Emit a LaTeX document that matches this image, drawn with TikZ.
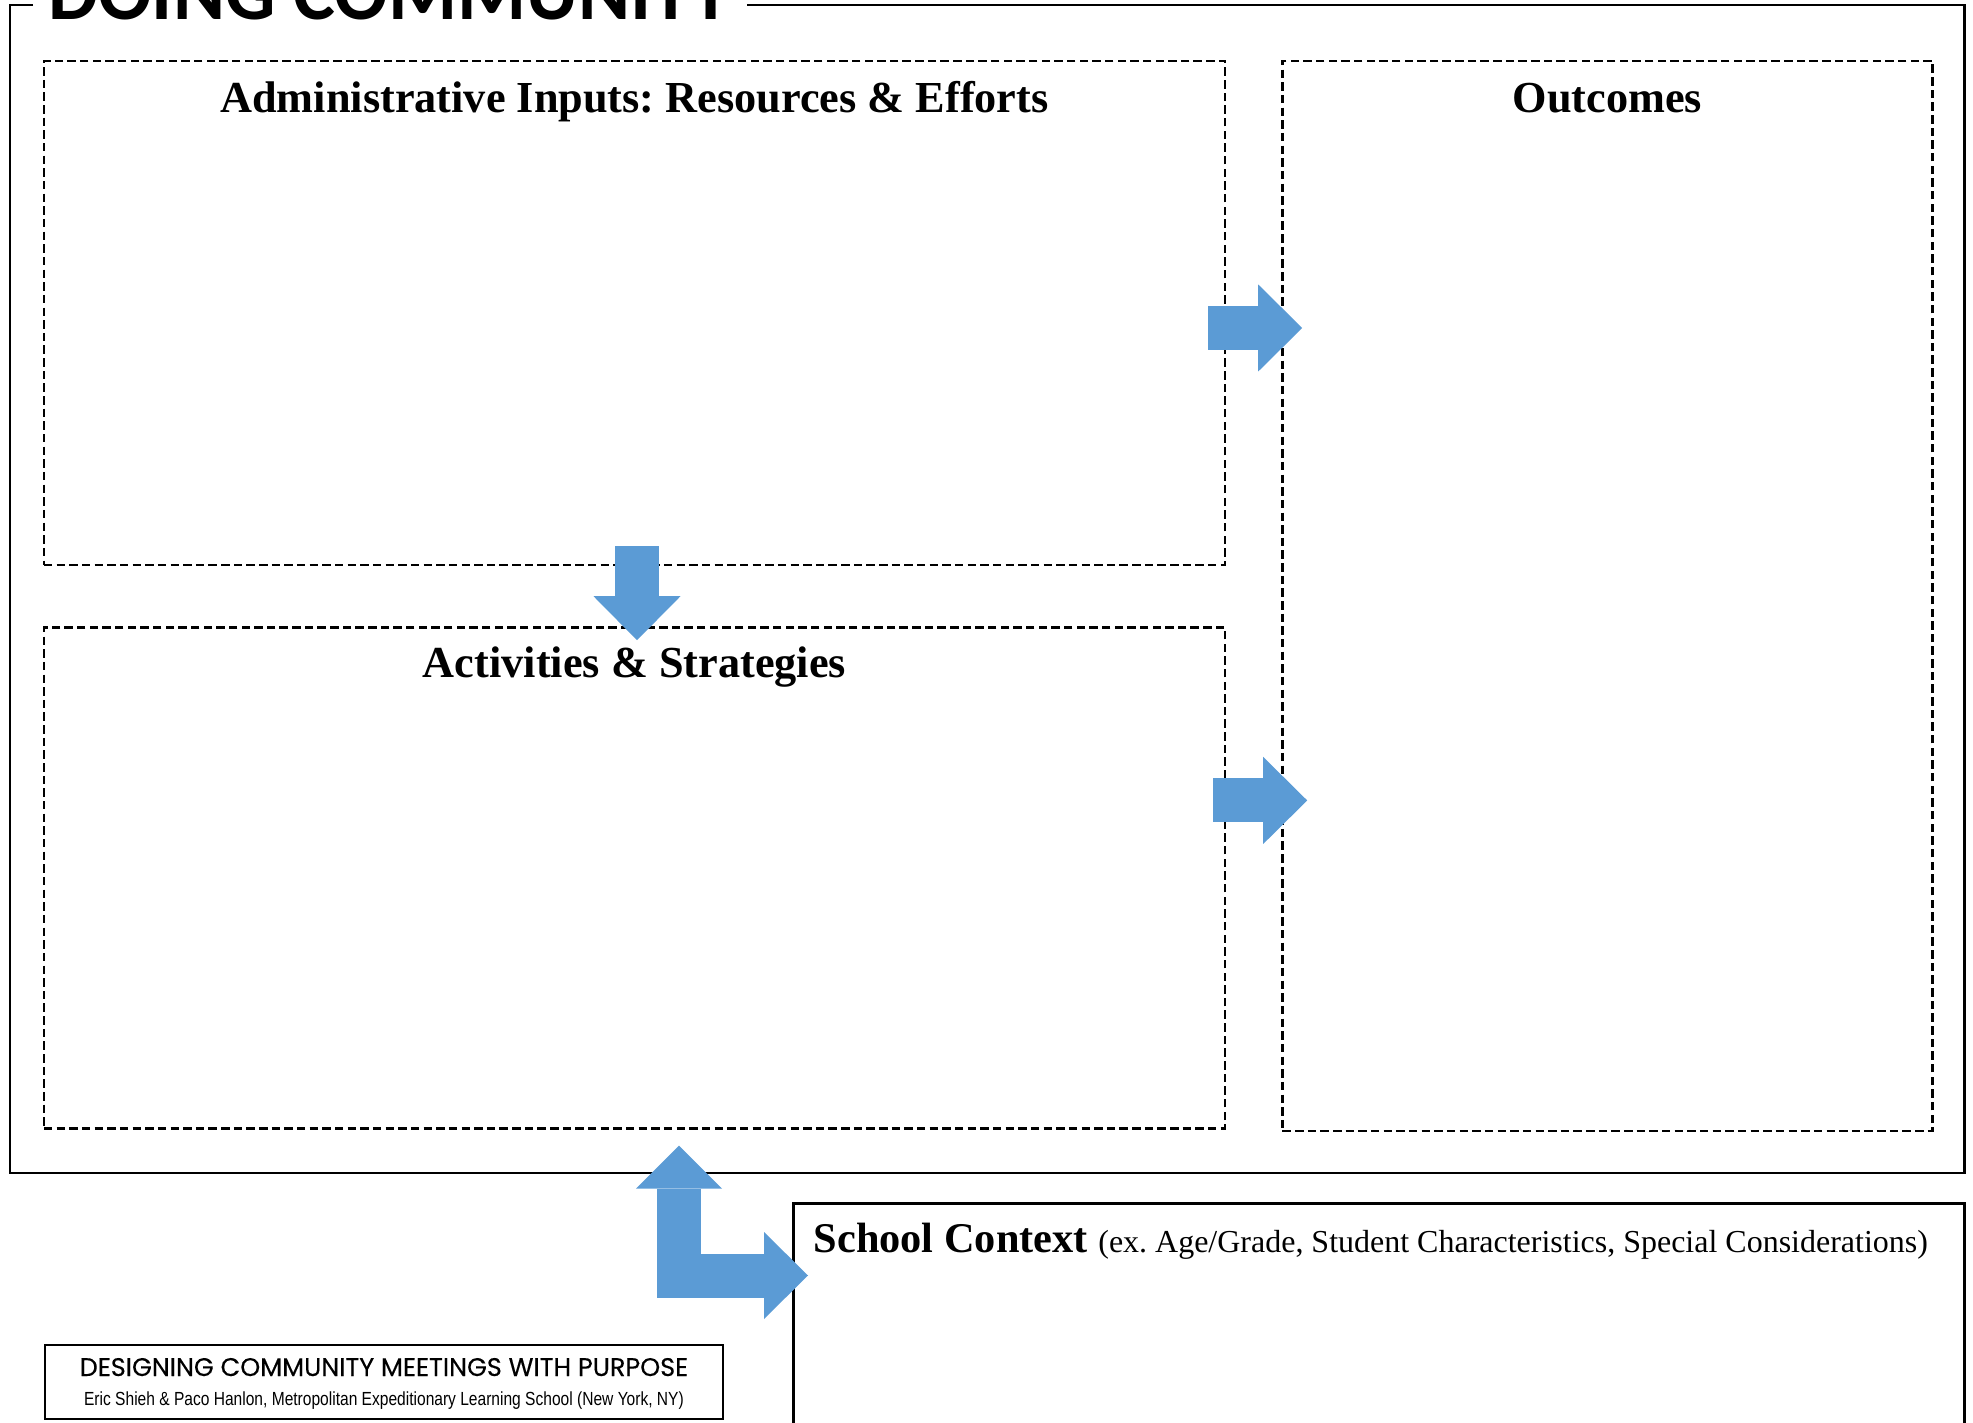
\documentclass[tikz,border=0pt]{standalone}
\usepackage{fontspec}
\setmainfont{Liberation Serif}
\newfontfamily\titlefont{Carlito}
\newfontfamily\creditfont{Poppins}[FakeBold=0.3]
\newfontfamily\namesfont{Liberation Sans}[FakeStretch=0.82]
\usetikzlibrary{positioning, arrows.meta}
\definecolor{arrowblue}{HTML}{5B9BD5}
\frenchspacing

\begin{document}
\begin{tikzpicture}
	  [node distance = 0.6cm,
	  %
	  frame/.style={draw, line width=0.85pt},
	  %
	  title/.style={font=\titlefont\bfseries\fontsize{22.5}{26}\selectfont, inner xsep=0.15cm, inner ysep=0pt},
	  %
	  panel/.style={rectangle, draw, dash pattern=on 2.4pt off 1.2pt, line width=0.7pt, inner sep=0pt},
	  %
	  heading/.style={font=\bfseries\fontsize{12.6}{15}\selectfont, anchor=base, inner sep=0pt},
	  %
	  box/.style={rectangle, draw, line width=0.8pt, inner sep=0pt},
	  %
	  bluearrow/.style={draw=arrowblue, line width=0.44cm, arrows={-Triangle[length=0.44cm, width=0.87cm, line width=0pt, fill=arrowblue]}}]

	    \useasboundingbox (0,0) rectangle (19.73,14.22);

	    % the three dashed panels
	    \node [panel, minimum width=11.81cm, minimum height=5.04cm] (admin) at (6.345,11.09) {};
	    \node [panel, below=0.60cm of admin, minimum width=11.81cm, minimum height=5.01cm] (activities) {};
	    \node [panel, right=0.55cm of admin.north east, anchor=north west, minimum width=6.5cm, minimum height=10.7cm] (outcomes) {};

	    \node [heading] (admin-head) at ([yshift=-0.53cm]admin.north) {Administrative Inputs: Resources \& Efforts};
	    \node [heading] (activities-head) at ([yshift=-0.51cm]activities.north) {Activities \& Strategies};
	    \node [heading] (outcomes-head) at ([yshift=-0.53cm]outcomes.north) {Outcomes};

	    % outer frame, broken by the title
	    \node [title, anchor=base west] (title) at (0.33,14.02) {DOING COMMUNITY};
	    \coordinate (nw) at (0.10,14.17);
	    \coordinate (se) at (19.64,2.49);
	    \draw [frame] (title.west |- nw) -- (nw) |- (se) |- (title.east |- nw);

	    % school context, runs off the bottom of the page
	    \node [box, anchor=north west, minimum width=11.71cm, minimum height=2.6cm] (context) at (7.92,2.20) {};
	    \node [anchor=base west, inner sep=0pt] (context-head) at ([xshift=0.21cm, yshift=-0.50cm]context.north west)
	      {\fontsize{12.05}{14}\selectfont\bfseries School Context \fontsize{9.1}{11}\selectfont\mdseries(ex. Age/Grade, Student Characteristics, Special Considerations)};

	    % credits
	    \node [box, line width=0.85pt, minimum width=6.78cm, minimum height=0.74cm] (credit) at (3.84,0.40) {};
	    \node [anchor=base, inner sep=0pt, font=\creditfont\fontsize{7.25}{8}\selectfont] (credit-title) at ([yshift=0.06cm]credit.center) {DESIGNING COMMUNITY MEETINGS WITH PURPOSE};
	    \node [anchor=base, inner sep=0pt, font=\namesfont\fontsize{5.4}{6}\selectfont] (credit-names) at ([yshift=-0.23cm]credit.center) {Eric Shieh \& Paco Hanlon, Metropolitan Expeditionary Learning School (New York, NY)};

	    % block arrows
	    \draw [bluearrow] ([xshift=-0.18cm, yshift=-0.15cm]admin.east) -- +(0.94,0);
	    \draw [bluearrow] ([xshift=-0.13cm, yshift=0.775cm]activities.east) -- +(0.94,0);
	    \draw [bluearrow] ([xshift=0.025cm, yshift=0.20cm]admin.south) -- +(0,-0.94);
	    \coordinate (ctxtip) at ([xshift=0.16cm, yshift=-0.735cm]context.north west);
	    \draw [bluearrow, arrows={Triangle[length=0.43cm, width=0.86cm, line width=0pt, fill=arrowblue]-Triangle[length=0.44cm, width=0.87cm, line width=0pt, fill=arrowblue]}] ([xshift=0.445cm, yshift=-0.16cm]activities.south) |- (ctxtip);
	  \end{tikzpicture}
\end{document}
